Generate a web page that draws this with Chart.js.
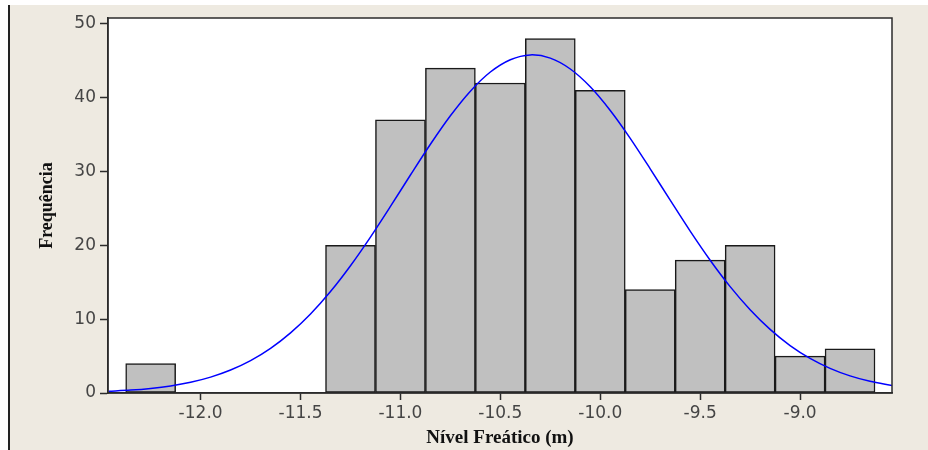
<!DOCTYPE html>
<html>
<head>
<meta charset="utf-8">
<script src="https://cdn.jsdelivr.net/npm/chart.js@4/dist/chart.umd.min.js"></script>
<style>
  html, body { margin: 0; padding: 0; background: #ffffff; }
  canvas { display: block; }
</style>
</head>
<body>
<canvas id="hist" width="928" height="450"></canvas>
<script>
const binCenters = [-12.25, -12.0, -11.75, -11.5, -11.25, -11.0, -10.75, -10.5, -10.25, -10.0, -9.75, -9.5, -9.25, -9.0, -8.75];
const counts = [4, 0, 0, 0, 20, 37, 44, 42, 48, 41, 14, 18, 20, 5, 6];

// curva ajustada (linha azul)
const curveX = [-12.46, -12.35, -12.25, -12.15, -12.05, -11.95, -11.85, -11.75, -11.65, -11.55,
                -11.45, -11.35, -11.25, -11.15, -11.05, -10.95, -10.85, -10.75, -10.65, -10.55,
                -10.45, -10.35, -10.25, -10.15, -10.05, -9.95, -9.85, -9.75, -9.65, -9.55,
                -9.45, -9.35, -9.25, -9.15, -9.05, -8.95, -8.85, -8.75, -8.65, -8.54];
const curveY = [0.23, 0.39, 0.62, 0.96, 1.45, 2.15, 3.11, 4.38, 6.04, 8.14,
                10.7, 13.74, 17.24, 21.12, 25.27, 29.53, 33.7, 37.56, 40.89, 43.48,
                45.15, 45.8, 45.36, 43.89, 41.48, 38.27, 34.5, 30.37, 26.12, 21.93,
                17.99, 14.41, 11.28, 8.62, 6.43, 4.69, 3.34, 2.32, 1.58, 1.0];

const xTicks = [-12.0, -11.5, -11.0, -10.5, -10.0, -9.5, -9.0];
const yTicks = [0, 10, 20, 30, 40, 50];

const beige = '#eeeae1';
const axisColor = '#2b2b2b';

const framePlugin = {
    id: 'frame',
    beforeDraw(chart) {
        const ctx = chart.ctx;
        const a = chart.chartArea;
        ctx.save();
        ctx.fillStyle = '#ffffff';
        ctx.fillRect(0, 0, chart.width, chart.height);
        ctx.fillStyle = beige;
        ctx.fillRect(9, 5, chart.width - 9, chart.height - 5);
        ctx.strokeStyle = '#222222';
        ctx.lineWidth = 2;
        ctx.beginPath();
        ctx.moveTo(9, 5);
        ctx.lineTo(9, chart.height);
        ctx.stroke();
        ctx.fillStyle = '#ffffff';
        ctx.fillRect(a.left, a.top, a.right - a.left, a.bottom - a.top);
        ctx.restore();
    },
    afterDraw(chart) {
        const ctx = chart.ctx;
        const a = chart.chartArea;
        ctx.save();
        ctx.strokeStyle = axisColor;
        ctx.lineWidth = 1.5;
        ctx.strokeRect(a.left, a.top, a.right - a.left, a.bottom - a.top);
        ctx.restore();
    }
};

new Chart(document.getElementById('hist'), {
    type: 'bar',
    data: {
        datasets: [
            {
                type: 'line',
                data: curveX.map((x, i) => ({ x: x, y: curveY[i] })),
                borderColor: '#0000ff',
                borderWidth: 1.5,
                pointRadius: 0,
                tension: 0.3,
                fill: false
            },
            {
                type: 'bar',
                data: binCenters.map((x, i) => ({ x: x, y: counts[i] > 0 ? counts[i] : null })),
                backgroundColor: '#c0c0c0',
                borderColor: '#1a1a1a',
                borderWidth: 1.5,
                borderSkipped: false,
                barPercentage: 1,
                categoryPercentage: 1
            }
        ]
    },
    options: {
        responsive: false,
        animation: false,
        layout: { padding: { top: 18, right: 36, left: 0, bottom: 0 } },
        plugins: { legend: { display: false }, tooltip: { enabled: false } },
        scales: {
            x: {
                type: 'linear',
                min: -12.4635,
                max: -8.54,
                offset: false,
                afterFit: (scale) => { scale.height = 57; },
                afterBuildTicks: (scale) => { scale.ticks = xTicks.map(v => ({ value: v })); },
                ticks: {
                    padding: 3,
                    color: '#454545',
                    font: { family: 'DejaVu Sans', size: 17 },
                    callback: (v) => Number(v).toFixed(1),
                    maxRotation: 0
                },
                grid: {
                    offset: false,
                    drawOnChartArea: false,
                    drawTicks: true,
                    tickLength: 7,
                    tickWidth: 1.5,
                    tickColor: axisColor
                },
                border: { display: true, color: axisColor, width: 1.5 },
                title: {
                    display: true,
                    text: 'Nível Freático (m)',
                    color: '#111111',
                    font: { family: 'Liberation Serif', size: 19, weight: 'bold' },
                    padding: { top: 0, bottom: 1 }
                }
            },
            y: {
                min: 0,
                max: 50.8,
                afterFit: (scale) => { scale.width = 108; },
                afterBuildTicks: (scale) => { scale.ticks = yTicks.map(v => ({ value: v })); },
                ticks: {
                    padding: 4,
                    color: '#454545',
                    font: { family: 'DejaVu Sans', size: 17 }
                },
                grid: {
                    drawOnChartArea: false,
                    drawTicks: true,
                    tickLength: 8,
                    tickWidth: 1.5,
                    tickColor: axisColor
                },
                border: { display: true, color: axisColor, width: 1.5 },
                title: {
                    display: true,
                    text: 'Frequência',
                    color: '#111111',
                    font: { family: 'Liberation Serif', size: 18, weight: 'bold' },
                    padding: { top: 37, bottom: 0 }
                }
            }
        }
    },
    plugins: [framePlugin]
});
</script>
</body>
</html>
